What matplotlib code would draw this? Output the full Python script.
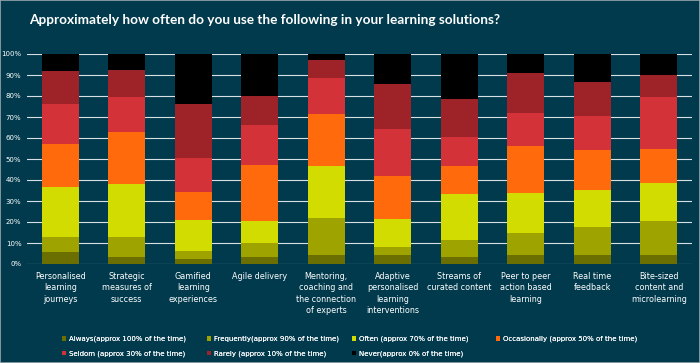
#! /usr/bin/env python3
# -*- coding: utf-8 -*-

import numpy as np
import matplotlib
matplotlib.use('Agg')
import matplotlib.pyplot as plt
from matplotlib.patches import Patch

TITLE = 'Approximately how often do you use the following in your learning solutions?'

categories = [
    'Personalised\nlearning\njourneys',
    'Strategic\nmeasures of\nsuccess',
    'Gamified\nlearning\nexperiences',
    'Agile delivery',
    'Mentoring,\ncoaching and\nthe connection\nof experts',
    'Adaptive\npersonalised\nlearning\ninterventions',
    'Streams of\ncurated content',
    'Peer to peer\naction based\nlearning',
    'Real time\nfeedback',
    'Bite-sized\ncontent and\nmicrolearning',
]

series_names = [
    'Always(approx 100% of the time)',
    'Frequently(approx 90% of the time)',
    'Often (approx 70% of the time)',
    'Occasionally (approx 50% of the time)',
    'Seldom (approx 30% of the time)',
    'Rarely (approx 10% of the time)',
    'Never(approx 0% of the time)',
]

# percentages per answer, one entry per category
always       = [5.7, 3.3, 2.4, 3.2, 4.1, 4.1, 3.2, 4.1, 4.1, 4.1]
frequently   = [7.2, 9.6, 4.0, 6.7, 18.0, 3.8, 8.2, 10.8, 13.7, 16.2]
often        = [23.8, 25.4, 14.7, 10.6, 24.5, 13.4, 22.1, 18.8, 17.5, 18.2]
occasionally = [20.5, 24.7, 13.2, 26.6, 24.6, 20.5, 13.1, 22.4, 18.8, 16.3]
seldom       = [18.8, 16.5, 16.4, 19.0, 17.2, 22.7, 14.0, 15.8, 16.5, 24.7]
rarely       = [15.7, 13.0, 25.3, 14.0, 8.9, 21.4, 17.8, 18.9, 16.0, 10.6]
never        = [8.3, 7.5, 24.0, 19.9, 2.7, 14.1, 21.6, 9.2, 13.4, 9.9]

colors = ['#6b6e00', '#9ea300', '#d3dc00', '#ff6a0d', '#d33239', '#9e2328', '#000000']
BG = '#003a4c'
W, H = 700.0, 363.0


def main():
    fig = plt.figure(figsize=(W / 100, H / 100), dpi=100, facecolor=BG)
    fig.patches.append(plt.Rectangle((0, 0), 1, 1, transform=fig.transFigure,
                                     fill=False, edgecolor='#9aa7ad', linewidth=1.2))
    ax = fig.add_axes([27 / W, 1 - 264 / H, 665 / W, 210 / H], facecolor=BG)

    data = [always, frequently, often, occasionally, seldom, rarely, never]
    x = np.arange(len(categories))
    bottom = np.zeros(len(categories))
    for vals, col, name in zip(data, colors, series_names):
        ax.bar(x, vals, bottom=bottom, width=0.56, color=col, label=name, zorder=3)
        bottom += np.array(vals)

    ax.set_xlim(-0.5, len(categories) - 0.5)
    ax.set_ylim(0, 100)
    ax.set_yticks(np.arange(0, 101, 10))
    ax.set_yticklabels(['%d%%' % v for v in range(0, 101, 10)])
    ax.yaxis.grid(True, color='#d8e0e3', linewidth=0.8, zorder=0)
    ax.set_axisbelow(True)
    ax.tick_params(axis='y', length=0, labelsize=5, labelcolor='white', pad=4)
    ax.set_xticks(x)
    ax.set_xticklabels(categories, fontsize=5.8, color='white', linespacing=1.3)
    ax.tick_params(axis='x', length=0, pad=6)
    for s in ax.spines.values():
        s.set_visible(False)

    fig.text(29 / W, 1 - 20 / H, TITLE, color='white', fontsize=9.8, family='Lato',
             fontweight='bold', va='center', ha='left')

    # legend laid out like the original: 4 columns x 2 rows
    col_x = [62, 207, 352, 496]
    columns = [[0, 4], [1, 5], [2, 6], [3]]
    for cx, idx in zip(col_x, columns):
        leg = fig.legend([Patch(facecolor=colors[i], edgecolor='none') for i in idx],
                         [series_names[i] for i in idx],
                         loc='upper left', bbox_to_anchor=(cx / W, 1 - 336 / H),
                         frameon=False, fontsize=5, labelcolor='white',
                         handlelength=0.55, handleheight=0.55, handletextpad=0.4,
                         borderaxespad=0, borderpad=0, labelspacing=1.1)
        fig.add_artist(leg)

    fig.savefig('out.png', dpi=100, facecolor=BG)
    plt.close(fig)


if __name__ == '__main__':
    main()
